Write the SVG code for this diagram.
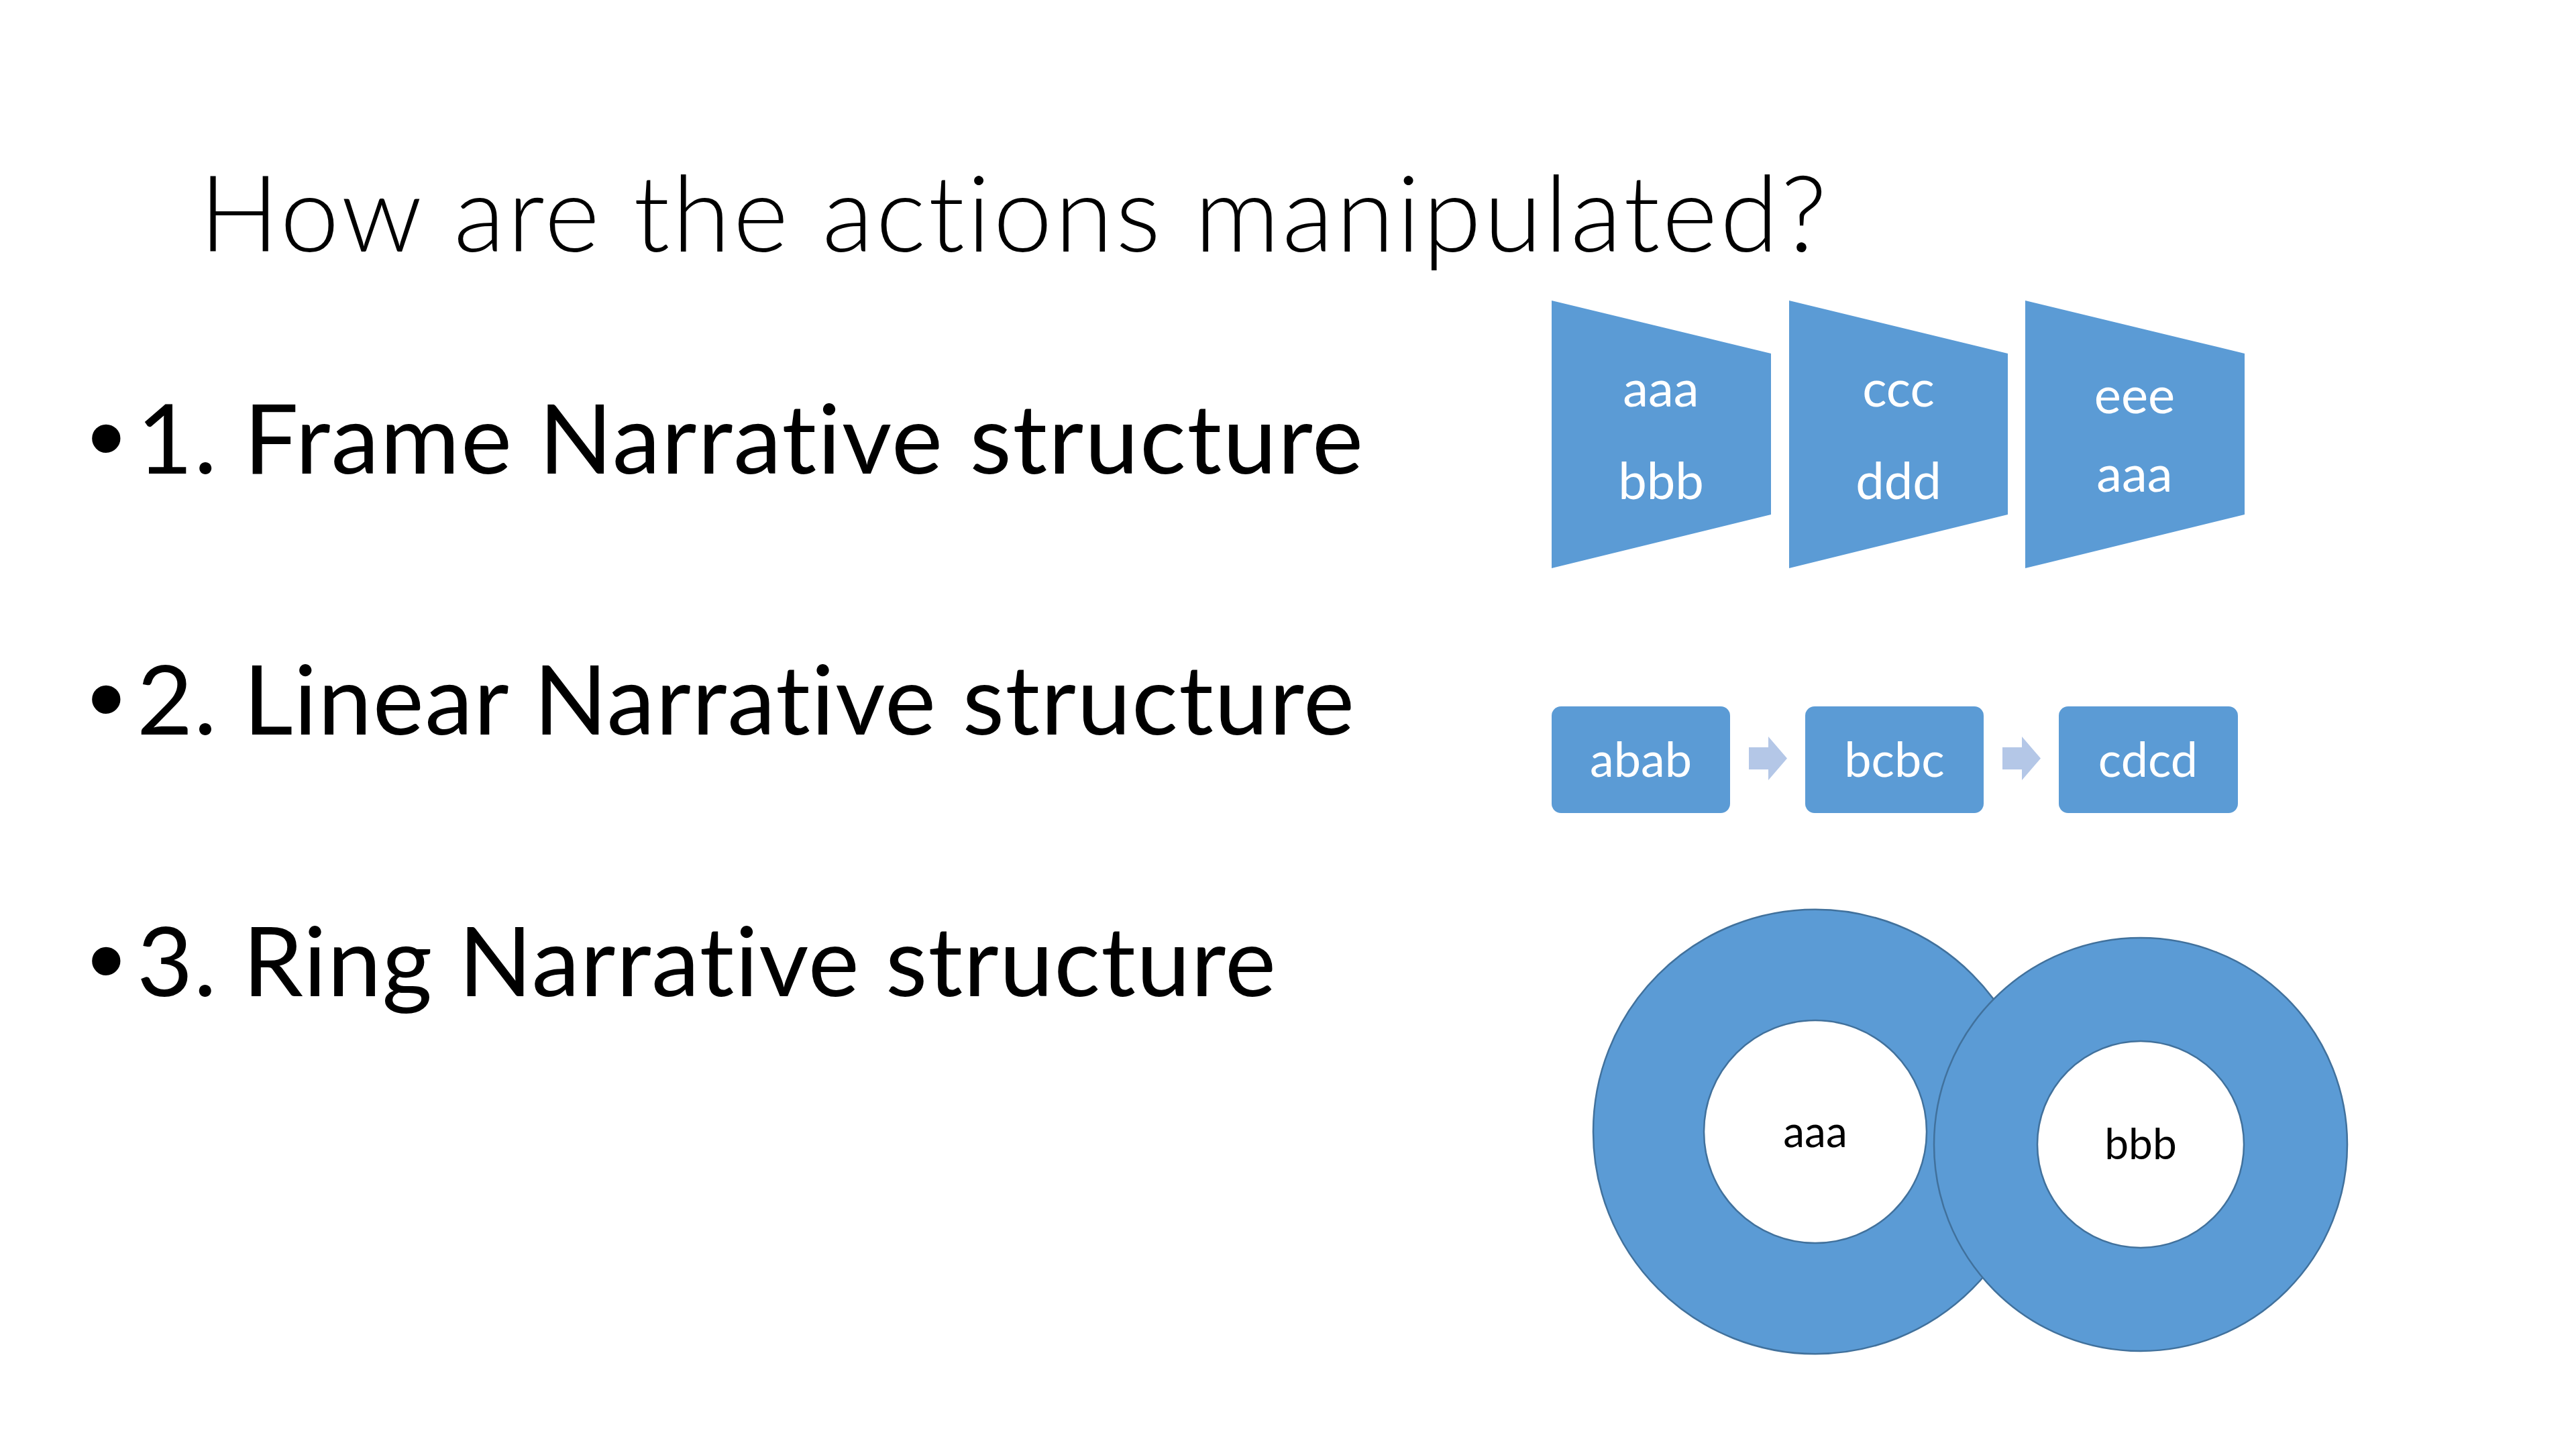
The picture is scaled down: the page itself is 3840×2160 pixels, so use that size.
<svg xmlns="http://www.w3.org/2000/svg" width="3840" height="2160" viewBox="0 0 3840 2160">
  <style>
    .bg { fill: #FFFFFF; }
    text { font-variant-ligatures: none; }
    .title { font-family: Lato, "Liberation Sans", sans-serif; font-weight: 300; font-size: 158px; fill: #000000; }
    .bullet { font-family: Lato, "Liberation Sans", sans-serif; font-size: 144px; fill: #000000; }
    .dot { font-family: "Liberation Sans", sans-serif; font-size: 156px; fill: #000000; }
    .shape { fill: #5B9BD5; }
    .arrow { fill: #B4C7E7; }
    .ring { fill: #5B9BD5; stroke: #41719C; stroke-width: 2.5; fill-rule: evenodd; }
    .wtxt { font-family: Lato, "Liberation Sans", sans-serif; fill: #FFFFFF; text-anchor: middle; }
    .ftxt { font-size: 76px; }
    .ltxt { font-size: 72px; }
    .btxt { font-family: Lato, "Liberation Sans", sans-serif; font-size: 64px; fill: #000000; text-anchor: middle; }
  </style>
  <rect class="bg" x="0" y="0" width="3840" height="2160"/>

  <g id="title">
    <text class="title" x="297" y="375" textLength="2426" lengthAdjust="spacing">How are the actions manipulated?</text>
  </g>

  <g id="bullets">
    <text class="dot" x="131" y="706">•</text>
    <text class="bullet" x="204" y="706" textLength="1828" lengthAdjust="spacing">1. Frame Narrative structure</text>
    <text class="dot" x="131" y="1095">•</text>
    <text class="bullet" x="204" y="1095" textLength="1815" lengthAdjust="spacing">2. Linear Narrative structure</text>
    <text class="dot" x="131" y="1485">•</text>
    <text class="bullet" x="204" y="1485" textLength="1698" lengthAdjust="spacing">3. Ring Narrative structure</text>
  </g>

  <g id="frame-1">
    <polygon class="shape" points="2313,448 2640,527 2640,767 2313,847"/>
    <text class="wtxt ftxt" x="2476" y="606">aaa</text>
    <text class="wtxt ftxt" x="2476" y="744">bbb</text>
  </g>
  <g id="frame-2">
    <polygon class="shape" points="2667,448 2993,527 2993,767 2667,847"/>
    <text class="wtxt ftxt" x="2830" y="606">ccc</text>
    <text class="wtxt ftxt" x="2830" y="744">ddd</text>
  </g>
  <g id="frame-3">
    <polygon class="shape" points="3019,448 3346,527 3346,767 3019,847"/>
    <text class="wtxt ftxt" x="3182" y="616">eee</text>
    <text class="wtxt ftxt" x="3182" y="733">aaa</text>
  </g>

  <g id="linear-1">
    <rect class="shape" x="2313" y="1053" width="266" height="159" rx="14" ry="14"/>
    <text class="wtxt ltxt" x="2446" y="1158">abab</text>
  </g>
  <g id="linear-2">
    <rect class="shape" x="2691" y="1053" width="266" height="159" rx="14" ry="14"/>
    <text class="wtxt ltxt" x="2824" y="1158">bcbc</text>
  </g>
  <g id="linear-3">
    <rect class="shape" x="3069" y="1053" width="267" height="159" rx="14" ry="14"/>
    <text class="wtxt ltxt" x="3202" y="1158">cdcd</text>
  </g>

  <g id="connectors">
    <polygon class="arrow" points="2607,1114 2636,1114 2636,1098 2664,1130.5 2636,1163 2636,1147 2607,1147"/>
    <polygon class="arrow" points="2985,1114 3014,1114 3014,1098 3042,1130.5 3014,1163 3014,1147 2985,1147"/>
  </g>

  <g id="ring-1">
    <path class="ring" d="M 2375,1687 A 331,331 0 1 0 3037,1687 A 331,331 0 1 0 2375,1687 Z M 2540,1687 A 166,166 0 1 0 2872,1687 A 166,166 0 1 0 2540,1687 Z"/>
    <text class="btxt" x="2706" y="1710">aaa</text>
  </g>
  <g id="ring-2">
    <path class="ring" d="M 2883,1706 A 308,308 0 1 0 3499,1706 A 308,308 0 1 0 2883,1706 Z M 3037,1706 A 154,154 0 1 0 3345,1706 A 154,154 0 1 0 3037,1706 Z"/>
    <text class="btxt" x="3191" y="1728">bbb</text>
  </g>
</svg>
